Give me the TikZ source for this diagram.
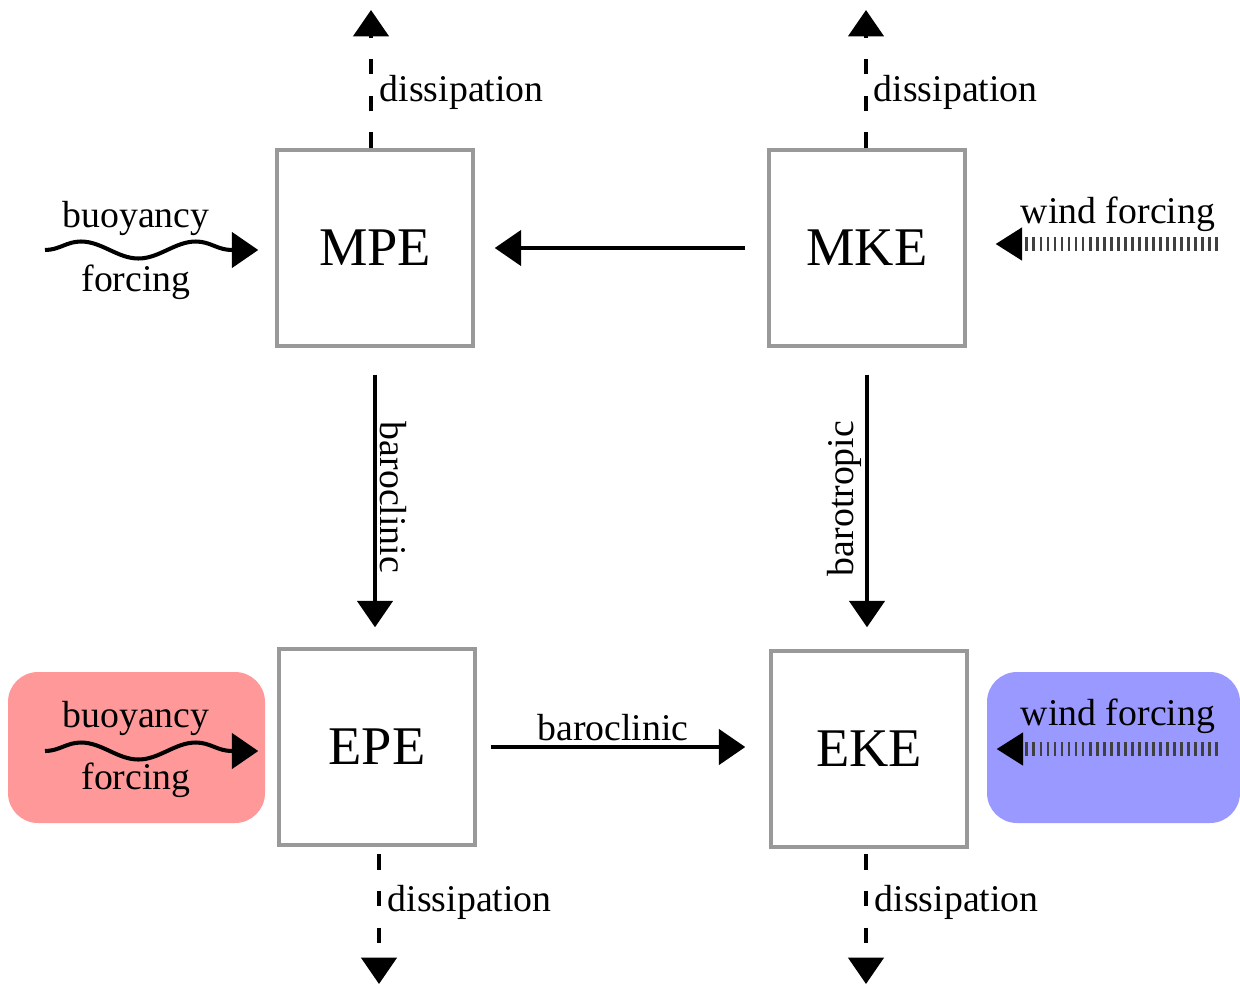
\documentclass[tikz,border=0pt]{standalone}
\usepackage{fontspec}
\setmainfont{Liberation Serif}
\usetikzlibrary{arrows.meta,decorations.pathmorphing}

\begin{document}
\begin{tikzpicture}[x=0.02cm,y=-0.02cm,
    energy/.style={shape=rectangle,draw=black!40,line width=2pt,minimum size=3.92cm,font=\fontsize{31}{36}\selectfont},
    lbl/.style={font=\fontsize{21.5}{25}\selectfont,inner sep=2pt},
    flow/.style={line width=2.3pt,-{Triangle[length=15pt,width=20pt]}},
    dissip/.style={flow,dash pattern=on 9pt off 12pt},
    buoy/.style={flow,decorate,decoration={snake,amplitude=0.17cm,segment length=2.3cm,post length=0.7cm}},
    wind/.style={draw=black!75,line width=8pt,dash pattern=on 1.6pt off 2.4pt,-{Triangle[length=15pt,width=19pt,line width=0pt,color=black]}}]
    \useasboundingbox (0,0) rectangle (1240,984);

    % forcing backgrounds
    \fill[red!40,rounded corners=0.6cm] (8,672) rectangle (265,823);
    \fill[blue!40,rounded corners=0.6cm] (987,672) rectangle (1240,823);

    \node[energy] (MPE) at (375,248) {MPE};
    \node[energy] (MKE) at (867,248) {MKE};
    \node[energy] (EPE) at (377,747) {EPE};
    \node[energy] (EKE) at (869,749) {EKE};

    % conversions
    \draw[flow,shorten <=0.44cm,shorten >=0.4cm] (MKE.west) -- (MPE.east);
    \draw[flow,shorten <=0.54cm,shorten >=0.4cm] (MPE.south) -- (MPE.south |- EPE.north)
        node[lbl,midway,rotate=-90,anchor=south] (bcv) {baroclinic};
    \draw[flow,shorten <=0.54cm,shorten >=0.44cm] (MKE.south) -- (MKE.south |- EKE.north)
        node[lbl,midway,rotate=90,anchor=south] (btv) {barotropic};
    \draw[flow,shorten <=0.28cm,shorten >=0.48cm] (EPE.east) -- (EPE.east -| EKE.west);
    \node[lbl] (bch) at (613,728) {baroclinic};

    % dissipation
    \coordinate (MPEout) at (371,10);
    \coordinate (MKEout) at (866,10);
    \coordinate (EPEout) at (379,984);
    \coordinate (EKEout) at (866,984);
    \draw[dissip] (MPEout |- MPE.north) -- (MPEout);
    \draw[dissip] (MKEout |- MKE.north) -- (MKEout);
    \draw[dissip,shorten <=0.14cm] (EPEout |- EPE.south) -- (EPEout);
    \draw[dissip,shorten <=0.1cm] (EKEout |- EKE.south) -- (EKEout);
    \node[lbl,anchor=west] (dMPE) at (376,92) {dissipation};
    \node[lbl,anchor=west] (dMKE) at (870,92) {dissipation};
    \node[lbl,anchor=west] (dEPE) at (384,902) {dissipation};
    \node[lbl,anchor=west] (dEKE) at (871,902) {dissipation};

    % buoyancy forcing
    \coordinate (buoyM) at (45,250);
    \coordinate (buoyE) at (45,751);
    \draw[buoy,shorten >=0.34cm] (buoyM) -- (buoyM -| MPE.west);
    \draw[buoy,shorten >=0.38cm] (buoyE) -- (buoyE -| EPE.west);
    \node[lbl] (bM1) at (136,218) {buoyancy};
    \node[lbl] (bM2) at (136,282) {forcing};
    \node[lbl] (bE1) at (136,718) {buoyancy};
    \node[lbl] (bE2) at (136,780) {forcing};

    % wind forcing
    \coordinate (windM) at (1218,244);
    \coordinate (windE) at (1218,749);
    \draw[wind,shorten >=0.58cm] (windM) -- (windM -| MKE.east);
    \draw[wind,shorten >=0.56cm] (windE) -- (windE -| EKE.east);
    \node[lbl] (wM) at (1118,214) {wind forcing};
    \node[lbl] (wE) at (1118,716) {wind forcing};
\end{tikzpicture}
\end{document}
